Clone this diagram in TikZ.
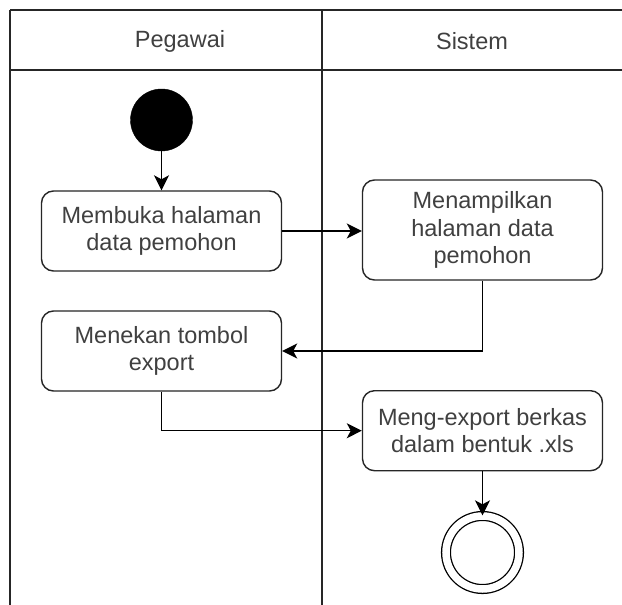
\documentclass[tikz,border=0pt]{standalone}
\usepackage{fontspec}
\setmainfont{Liberation Sans}
\usetikzlibrary{arrows.meta}
\begin{document}
\begin{tikzpicture}[x=1pt,y=-1pt,
  lane/.style={line width=1.6pt, draw=black!85},
  actbox/.style={draw=black!85, line width=1.4pt, rounded corners=12pt, rectangle,
    minimum width=240pt, inner sep=0pt, align=center, text=black!75,
    font=\fontsize{23.5}{27.7}\selectfont},
  hdr/.style={text=black!75, font=\fontsize{23.5}{27.7}\selectfont, inner sep=0pt},
  flow/.style={line width=1.5pt, draw=black, -{Stealth[length=15pt,width=15pt,inset=4pt]}},
  startst/.style={circle, fill=black, draw=black, minimum size=62pt, inner sep=0pt},
  endst/.style={circle, draw=black, line width=1.3pt, minimum size=81pt, inner sep=0pt,
    double=white, double distance=7.5pt}
]
\useasboundingbox[fill=white] (0,0) rectangle (622,605);
% pool lines
\draw[lane] (10,10) -- (622,10);
\draw[lane] (10,70) -- (622,70);
\draw[lane] (10,10) -- (10,605);
\draw[lane] (322,10) -- (322,605);
\node[hdr] (hpeg) at (180,41) {Pegawai};
\node[hdr] (hsis) at (472,41) {Sistem};
% nodes
\node[startst] (start) at (161.5,120) {};
\node[actbox, minimum height=80pt] (b1) at (161.5,231) {Membuka halaman\\data pemohon};
\node[actbox, minimum height=100pt] (b2) at (482.5,230) {Menampilkan\\halaman data\\pemohon};
\node[actbox, minimum height=80pt] (b3) at (161.5,351) {Menekan tombol\\export};
\node[actbox, minimum height=80pt] (b4) at (482.5,430.7) {Meng-export berkas\\dalam bentuk .xls};
\node[endst, minimum size=73pt] (end) at (482.5,552.5) {};
% connectors
\draw[flow] (start.south) -- (b1.north);
\draw[flow] (b1.east) -- (b1.east -| b2.west);
\draw[flow] (b2.south) |- (b3.east);
\draw[flow] (b3.south) |- (b4.west);
\draw[flow] (b4.south) -- (end.north);
\end{tikzpicture}
\end{document}
